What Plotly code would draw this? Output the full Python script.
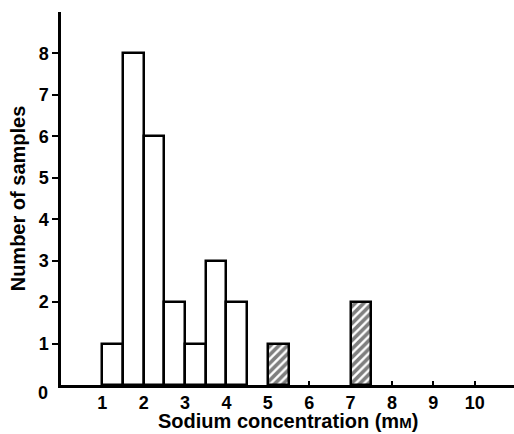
import plotly.graph_objects as go

# Open bars (bin lower edge, width 0.5 mM)
open_bins = [1.0, 1.5, 2.0, 2.5, 3.0, 3.5, 4.0]
open_counts = [1, 8, 6, 2, 1, 3, 2]
# Hatched bars
hatched_bins = [5.0, 7.0]
hatched_counts = [1, 2]
bin_width = 0.5

x_ticks = [1, 2, 3, 4, 5, 6, 7, 8, 9, 10]
y_ticks = [1, 2, 3, 4, 5, 6, 7, 8]

FONT = "Liberation Sans, Arial, Helvetica, sans-serif"
TICKFONT = dict(family=FONT, size=18, color="black", weight="bold")

fig = go.Figure()
fig.add_trace(go.Bar(
    x=[b + bin_width / 2 for b in open_bins], y=open_counts, width=bin_width,
    marker=dict(color="white", line=dict(color="black", width=2.5)),
    showlegend=False,
))
fig.add_trace(go.Bar(
    x=[b + bin_width / 2 for b in hatched_bins], y=hatched_counts, width=bin_width,
    marker=dict(color="white", line=dict(color="black", width=2.5),
                pattern=dict(shape="/", fgcolor="black", bgcolor="white",
                             size=6, solidity=0.6)),
    showlegend=False,
))

fig.update_layout(
    width=514, height=434,
    margin=dict(l=61, r=0, t=12, b=49, autoexpand=False),
    paper_bgcolor="white", plot_bgcolor="white",
    font=dict(family=FONT, size=18, color="black"),
    bargap=0,
    xaxis=dict(
        range=[0, 10.95], tickvals=x_ticks, ticktext=[str(v) for v in x_ticks],
        ticks="inside", ticklen=4, tickwidth=1.5, tickcolor="black",
        tickfont=TICKFONT,
        showline=True, linecolor="black", linewidth=2.5, showgrid=False,
        zeroline=False, automargin=False,
    ),
    yaxis=dict(
        range=[0, 9.0], tickvals=y_ticks, ticktext=[str(v) for v in y_ticks],
        ticks="outside", ticklen=6, tickwidth=1.5, tickcolor="black",
        tickfont=TICKFONT,
        showline=True, linecolor="black", linewidth=2.5, showgrid=False,
        zeroline=False, automargin=False,
        title=dict(text="Number of samples",
                   font=dict(family=FONT, size=20, color="black", weight="bold"),
                   standoff=8),
    ),
    annotations=[
        dict(text="0", x=0, xref="x", y=0, yref="paper", showarrow=False,
             xshift=-18, yshift=-20, font=TICKFONT),
        dict(text="Sodium concentration (m<span style='font-size:15px'>M</span>)",
             x=0.5, xref="paper", y=0, yref="paper", yanchor="bottom",
             yshift=-49, showarrow=False,
             font=dict(family=FONT, size=20, color="black", weight="bold")),
    ],
)

fig.write_html(
    "out.html",
    config={"displayModeBar": False},
    post_script="document.body.style.margin='0';document.body.style.overflow='hidden';",
)
